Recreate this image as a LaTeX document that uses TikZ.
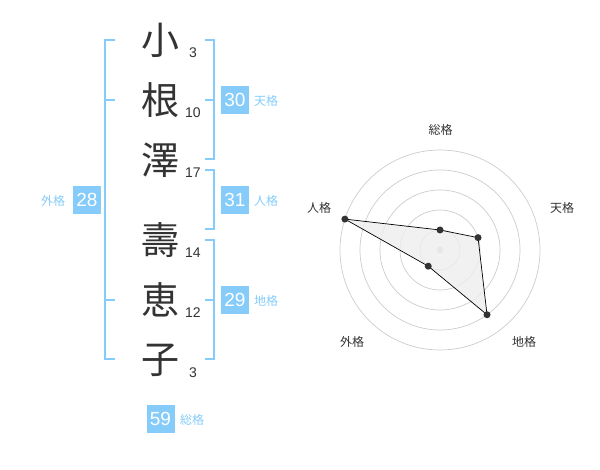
\documentclass[tikz,border=0pt]{standalone}
\usepackage{fontspec}
\usetikzlibrary{calc}
\setmainfont{Liberation Sans}
\newfontfamily\cjk{Noto Sans CJK JP}
\definecolor{lblue}{RGB}{133,204,250}
\definecolor{dgray}{RGB}{51,51,51}
\definecolor{cgray}{RGB}{204,204,204}
\definecolor{pfill}{RGB}{238,238,238}
\begin{document}
\begin{tikzpicture}[x=1pt,y=-1pt,
  kanji/.style={font=\cjk\fontsize{38}{38}\selectfont,text=dgray,inner sep=0pt},
  stroke/.style={font=\fontsize{14}{14}\selectfont,text=dgray,inner sep=0pt},
  valbox/.style={fill=lblue,text=white,minimum width=28pt,minimum height=28pt,inner sep=0pt,font=\fontsize{19}{19}\selectfont},
  vallbl/.style={text=lblue,font=\cjk\fontsize{12}{12}\selectfont,inner sep=0pt},
  brk/.style={draw=lblue,line width=2pt},
  ring/.style={draw=cgray,line width=0.7pt},
  rlbl/.style={text=dgray,font=\cjk\fontsize{12}{12}\selectfont,inner sep=0pt},
  rdot/.style={circle,fill=dgray,inner sep=0pt,minimum size=7pt}]
\useasboundingbox (0,0) rectangle (600,470);
% characters
\node[kanji] (k1) at (160,40) {小};
\node[kanji] (k2) at (160,100) {根};
\node[kanji] (k3) at (160,160) {澤};
\node[kanji] (k4) at (160,240) {壽};
\node[kanji] (k5) at (160,300) {恵};
\node[kanji] (k6) at (160,360) {子};
\node[stroke] (s1) at (193,53) {3};
\node[stroke] (s2) at (193,113) {10};
\node[stroke] (s3) at (193,173) {17};
\node[stroke] (s4) at (193,253) {14};
\node[stroke] (s5) at (193,313) {12};
\node[stroke] (s6) at (193,373) {3};
% brackets
\draw[brk] (115,40) -- (105,40) -- (105,359) -- (115,359);
\draw[brk] (105,100) -- (115,100);
\draw[brk] (105,300) -- (115,300);
\draw[brk] (205,40) -- (214,40) -- (214,159) -- (205,159);
\draw[brk] (205,100) -- (214,100);
\draw[brk] (205,170) -- (214,170) -- (214,229) -- (205,229);
\draw[brk] (205,240) -- (214,240) -- (214,359) -- (205,359);
\draw[brk] (205,300) -- (214,300);
% value boxes
\node[valbox] (b28) at (87,200) {28};
\node[vallbl] (l28) at (53,201) {外格};
\node[valbox] (b30) at (235,100) {30};
\node[vallbl] (l30) at (266,101) {天格};
\node[valbox] (b31) at (235,200) {31};
\node[vallbl] (l31) at (266,201) {人格};
\node[valbox] (b29) at (235,300) {29};
\node[vallbl] (l29) at (266,301) {地格};
\node[valbox] (b59) at (160.5,419) {59};
\node[vallbl] (l59) at (192,420) {総格};
% radar
\coordinate (c) at (440,250);
\foreach \r in {20,40,60,80,100} \draw[ring] (c) circle (\r);
\fill[cgray] (c) circle (3.5);
\coordinate (p1) at ($(c)+(-90:20)$);
\coordinate (p2) at ($(c)+(-18:40)$);
\coordinate (p3) at ($(c)+(54:80)$);
\coordinate (p4) at ($(c)+(126:20)$);
\coordinate (p5) at ($(c)+(198:100)$);
\draw[fill=pfill,fill opacity=0.8,draw=black,line width=0.7pt] (p1) -- (p2) -- (p3) -- (p4) -- (p5) -- cycle;
\foreach \p in {p1,p2,p3,p4,p5} \node[rdot] at (\p) {};
\node[rlbl] (r1) at (440.5,130) {総格};
\node[rlbl] (r2) at (562,208) {天格};
\node[rlbl] (r3) at (319,208) {人格};
\node[rlbl] (r4) at (352,342) {外格};
\node[rlbl] (r5) at (524,342) {地格};
\end{tikzpicture}
\end{document}
